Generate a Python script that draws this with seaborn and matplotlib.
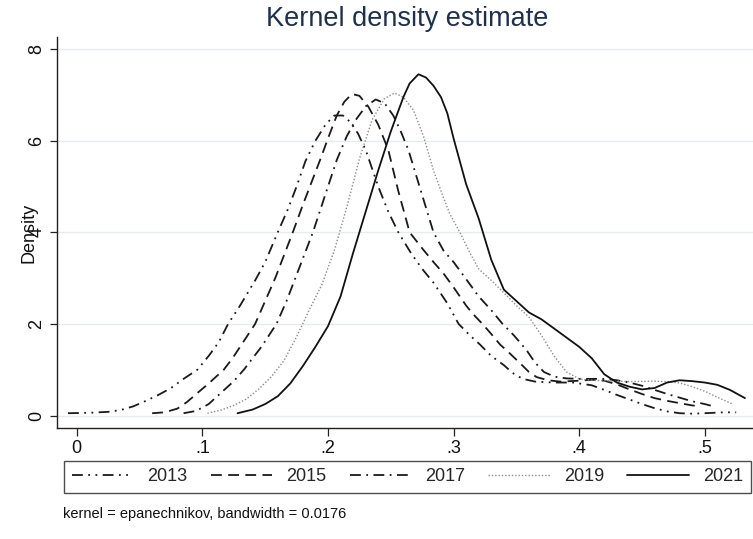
import matplotlib
matplotlib.use("Agg")
import matplotlib.pyplot as plt
from matplotlib.lines import Line2D
import pandas as pd
import seaborn as sns

# Density estimates by survey year
years = ["2013", "2015", "2017", "2019", "2021"]

x_2013 = [-0.007, 0.01, 0.025, 0.035, 0.045, 0.055, 0.065, 0.075, 0.085, 0.096,
          0.105, 0.113, 0.1205, 0.13, 0.142, 0.15, 0.16, 0.168, 0.175, 0.182,
          0.19, 0.198, 0.205, 0.212, 0.218, 0.224, 0.23, 0.24, 0.248, 0.256,
          0.266, 0.275, 0.284, 0.295, 0.304, 0.313, 0.321, 0.33, 0.34, 0.347,
          0.355, 0.365, 0.38, 0.395, 0.41, 0.42, 0.43, 0.44, 0.45, 0.46,
          0.47, 0.48, 0.49, 0.50, 0.515, 0.525]
y_2013 = [0.05, 0.06, 0.08, 0.12, 0.2, 0.32, 0.45, 0.6, 0.8, 1.0,
          1.3, 1.6, 2.0, 2.4, 2.95, 3.35, 4.0, 4.5, 5.0, 5.55,
          6.0, 6.35, 6.55, 6.55, 6.4, 6.15, 5.8, 5.0, 4.45, 4.0,
          3.55, 3.2, 2.9, 2.45, 2.0, 1.75, 1.55, 1.3, 1.1, 0.93,
          0.8, 0.74, 0.72, 0.72, 0.66, 0.56, 0.45, 0.35, 0.25, 0.16,
          0.09, 0.05, 0.04, 0.05, 0.07, 0.07]

x_2015 = [0.06, 0.07, 0.08, 0.088, 0.096, 0.105, 0.117, 0.124, 0.13, 0.136,
          0.142, 0.15, 0.158, 0.165, 0.172, 0.18, 0.187, 0.194, 0.2, 0.207,
          0.213, 0.219, 0.225, 0.232, 0.24, 0.248, 0.256, 0.265, 0.275, 0.284,
          0.292, 0.30, 0.31, 0.316, 0.323, 0.33, 0.337, 0.345, 0.353, 0.36,
          0.366, 0.375, 0.385, 0.40, 0.41, 0.42, 0.43, 0.44, 0.45, 0.46,
          0.47, 0.48, 0.49, 0.497]
y_2015 = [0.05, 0.07, 0.15, 0.3, 0.49, 0.7, 1.0, 1.25, 1.5, 1.75,
          2.0, 2.5, 3.0, 3.5, 4.0, 4.6, 5.1, 5.6, 6.05, 6.55,
          6.85, 7.02, 6.98, 6.75, 6.35, 5.8, 4.9, 4.0, 3.65, 3.35,
          3.1, 2.8, 2.4, 2.2, 2.0, 1.78, 1.55, 1.35, 1.14, 0.95,
          0.84, 0.77, 0.74, 0.76, 0.78, 0.76, 0.68, 0.57, 0.47, 0.38,
          0.32, 0.27, 0.22, 0.2]

x_2017 = [0.085, 0.095, 0.105, 0.115, 0.125, 0.133, 0.14, 0.147, 0.153, 0.159,
          0.167, 0.174, 0.181, 0.188, 0.197, 0.207, 0.215, 0.222, 0.23, 0.238,
          0.245, 0.252, 0.258, 0.264, 0.274, 0.284, 0.292, 0.30, 0.311, 0.32,
          0.33, 0.339, 0.348, 0.358, 0.365, 0.372, 0.38, 0.39, 0.40, 0.41,
          0.42, 0.43, 0.44, 0.45, 0.46, 0.47, 0.48, 0.49, 0.50, 0.507]
y_2017 = [0.05, 0.1, 0.25, 0.5, 0.75, 1.0, 1.25, 1.5, 1.75, 2.0,
          2.5, 3.0, 3.5, 4.0, 4.75, 5.58, 6.1, 6.45, 6.75, 6.9,
          6.82, 6.55, 6.2, 5.8, 4.9, 4.0, 3.6, 3.35, 2.94, 2.6,
          2.3, 2.0, 1.75, 1.43, 1.15, 0.95, 0.85, 0.81, 0.8, 0.8,
          0.8, 0.77, 0.72, 0.65, 0.56, 0.47, 0.39, 0.31, 0.25, 0.2]

x_2019 = [0.104, 0.115, 0.125, 0.135, 0.145, 0.155, 0.165, 0.175, 0.185, 0.195,
          0.205, 0.215, 0.225, 0.235, 0.245, 0.253, 0.26, 0.268, 0.276, 0.284,
          0.29, 0.297, 0.305, 0.313, 0.32, 0.33, 0.34, 0.35, 0.36, 0.37,
          0.38, 0.39, 0.40, 0.41, 0.42, 0.44, 0.46, 0.47, 0.48, 0.49,
          0.50, 0.51, 0.522]
y_2019 = [0.05, 0.12, 0.22, 0.36, 0.58, 0.85, 1.2, 1.72, 2.3, 2.85,
          3.6, 4.55, 5.6, 6.45, 6.92, 7.04, 6.95, 6.67, 6.1, 5.35,
          4.9, 4.4, 4.0, 3.55, 3.2, 2.95, 2.68, 2.4, 2.15, 1.75,
          1.3, 0.95, 0.8, 0.77, 0.76, 0.74, 0.75, 0.74, 0.71, 0.63,
          0.53, 0.4, 0.25]

x_2021 = [0.128, 0.14, 0.15, 0.16, 0.17, 0.18, 0.19, 0.20, 0.21, 0.22,
          0.23, 0.24, 0.25, 0.26, 0.265, 0.272, 0.278, 0.284, 0.29, 0.295,
          0.30, 0.31, 0.32, 0.33, 0.34, 0.35, 0.36, 0.37, 0.38, 0.39,
          0.40, 0.41, 0.42, 0.43, 0.44, 0.45, 0.46, 0.47, 0.48, 0.49,
          0.50, 0.51, 0.52, 0.532]
y_2021 = [0.05, 0.13, 0.25, 0.42, 0.7, 1.08, 1.5, 1.95, 2.6, 3.55,
          4.45, 5.35, 6.2, 6.95, 7.25, 7.45, 7.38, 7.2, 6.95, 6.6,
          6.05, 5.05, 4.3, 3.4, 2.75, 2.5, 2.25, 2.1, 1.9, 1.7,
          1.5, 1.25, 0.9, 0.72, 0.63, 0.57, 0.6, 0.72, 0.77, 0.75,
          0.72, 0.67, 0.56, 0.38]

x_ticks = [0, 0.1, 0.2, 0.3, 0.4, 0.5]
x_tick_labels = ["0", ".1", ".2", ".3", ".4", ".5"]
y_ticks = [0, 2, 4, 6, 8]

xs_all = [x_2013, x_2015, x_2017, x_2019, x_2021]
ys_all = [y_2013, y_2015, y_2017, y_2019, y_2021]
df = pd.concat(
    [pd.DataFrame({"x": xs, "density": ys, "year": yr})
     for yr, xs, ys in zip(years, xs_all, ys_all)],
    ignore_index=True,
)

# Line styles in the Stata manner
colors = {"2013": "#1a1a1a", "2015": "#1a1a1a", "2017": "#1a1a1a",
          "2019": "#8c8c8c", "2021": "#111111"}
dashes = {"2013": (6, 3, 1, 3, 1, 3), "2015": (6, 3.5), "2017": (6, 3, 1, 3),
          "2019": (1, 1.4), "2021": ""}
widths = {"2013": 1.3, "2015": 1.3, "2017": 1.3, "2019": 1.0, "2021": 1.3}

sns.set_theme(style="white")
plt.rcParams["font.family"] = ["Liberation Sans", "DejaVu Sans"]

fig = plt.figure(figsize=(7.53, 5.39), dpi=100)
ax = fig.add_axes([0.0753, 0.2065, 0.9247, 0.7245])

sns.lineplot(data=df, x="x", y="density", hue="year", style="year",
             palette=colors, dashes=dashes, estimator=None, sort=False,
             legend=False, ax=ax)
for line, yr in zip(ax.lines, years):
    line.set_linewidth(widths[yr])

ax.set_xlim(-0.016, 0.5384)
ax.set_ylim(-0.266, 8.26)
ax.set_xticks(x_ticks)
ax.set_xticklabels(x_tick_labels)
ax.set_yticks(y_ticks)
ax.yaxis.grid(True, color="#e4ecf0", linewidth=1.0)
ax.xaxis.grid(False)
ax.set_axisbelow(True)

for side in ["top", "right"]:
    ax.spines[side].set_visible(False)
for side in ["left", "bottom"]:
    ax.spines[side].set_color("#222222")
    ax.spines[side].set_linewidth(1.0)

ax.tick_params(axis="both", which="major", direction="out",
               width=0.9, color="#222222", labelsize=13, labelcolor="#111111",
               left=True, bottom=True)
ax.tick_params(axis="y", length=5, pad=3)
ax.tick_params(axis="x", length=6, pad=2.5)
for lab in ax.get_yticklabels():
    lab.set_rotation(90)
    lab.set_va("center")

ax.set_xlabel("")
ax.set_ylabel("Density", fontsize=13, color="#111111")
ax.yaxis.set_label_coords(-0.028, 0.5)

fig.text(407.5 / 753, 1 - 19 / 539, "Kernel density estimate",
         ha="center", va="center", fontsize=19.5, color="#1e3050")

handles = []
for yr in years:
    h = Line2D([], [], color=colors[yr], linewidth=widths[yr])
    if dashes[yr]:
        h.set_dashes(dashes[yr])
    handles.append(h)
leg = fig.legend(handles, years, loc="lower left",
                 bbox_to_anchor=(64 / 753, 1 - 493 / 539, 687 / 753, 37 / 539),
                 mode="expand", ncol=5, fontsize=13, frameon=True,
                 fancybox=False, edgecolor="#222222", borderaxespad=0,
                 handlelength=3.4, handletextpad=0.8, borderpad=0.42)
leg.get_frame().set_linewidth(1.0)

fig.text(63 / 753, 1 - 514 / 539, "kernel = epanechnikov, bandwidth = 0.0176",
         ha="left", va="center", fontsize=10.5, color="#111111")

fig.savefig("out.png", dpi=100)
